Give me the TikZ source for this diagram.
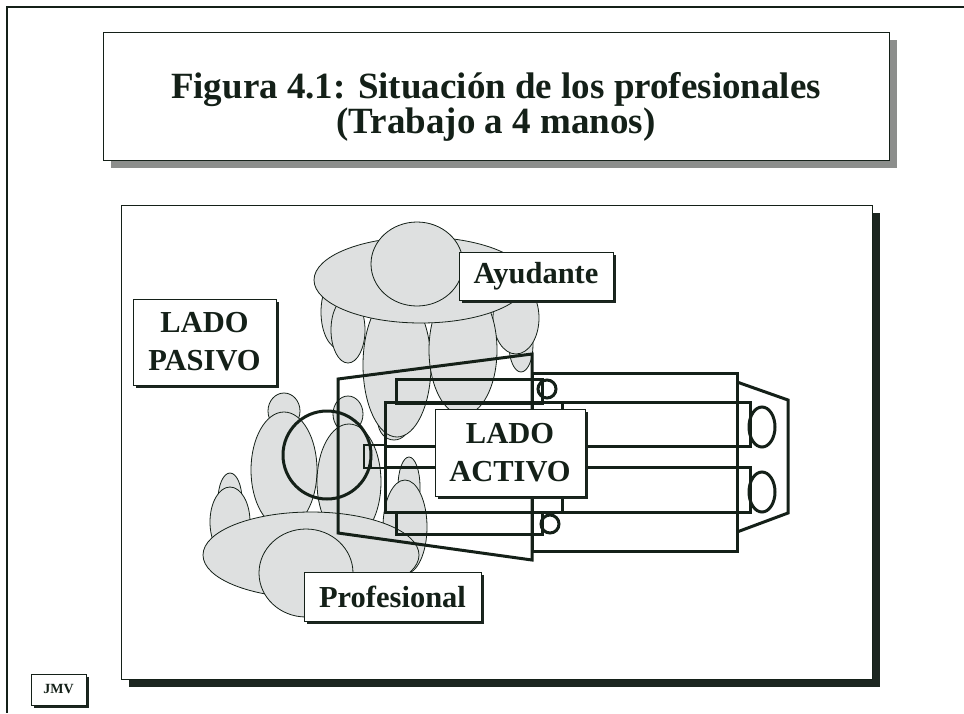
\documentclass[tikz,border=0pt]{standalone}
\usepackage{fontspec}
\setmainfont{Liberation Serif}
\usetikzlibrary{shadows}
\definecolor{ink}{RGB}{20,32,24}
\definecolor{skin}{RGB}{222,224,224}
\definecolor{titleshade}{RGB}{140,142,140}
\definecolor{darkshade}{RGB}{28,38,32}
\begin{document}
\begin{tikzpicture}[x=1pt,y=-1pt,
  figpart/.style={fill=skin,draw=ink,line width=0.8pt},
  chairline/.style={draw=ink,line width=3pt,line join=miter},
  labelbox/.style={draw=ink,line width=0.8pt,fill=white,inner sep=0pt,text=ink,
     font=\bfseries\fontsize{30.5}{38}\selectfont,align=center,
     drop shadow={shadow xshift=3pt,shadow yshift=-3pt,opacity=1,fill=darkshade}},
]
\useasboundingbox (0,0) rectangle (964,713);
\fill[white] (0,0) rectangle (964,713);

% page frame
\draw[ink,line width=2pt] (964,7) -- (7,7) -- (7,713);

% title panel
\fill[titleshade] (111,40) rectangle (897,168);
\node[draw=ink,line width=0.8pt,fill=white,minimum width=786pt,minimum height=128pt,inner sep=0pt]
  (titlebox) at (496,96) {};
\node[text=ink,font=\bfseries\fontsize{37}{35}\selectfont,align=center,inner sep=0pt]
  (title) at (496,107) {Figura 4.1: Situación de los profesionales\\(Trabajo a 4 manos)};

% drawing panel
\fill[darkshade] (129,213) rectangle (880,687);
\node[draw=ink,line width=0.8pt,fill=white,minimum width=751pt,minimum height=474pt,inner sep=0pt]
  (panel) at (496.5,442) {};

% ---- assistant (seen from above) ----
\path[figpart] (340,312) ellipse [x radius=19pt,y radius=37pt];
\path[figpart] (348,330) ellipse [x radius=17pt,y radius=33pt];
\path[figpart] (521,345) ellipse [x radius=12pt,y radius=27pt];
\path[figpart] (516,318) ellipse [x radius=23pt,y radius=36pt];
\path[figpart] (394,422) ellipse [x radius=16pt,y radius=18pt];
\path[figpart] (397,365) ellipse [x radius=34pt,y radius=72pt];
\path[figpart] (463,350) ellipse [x radius=34pt,y radius=65pt];
\path[figpart] (421,280) ellipse [x radius=107pt,y radius=43pt];
\path[figpart] (417,264) ellipse [x radius=46pt,y radius=42pt];

% ---- professional (seen from above) ----
\path[figpart] (230,500) ellipse [x radius=12pt,y radius=27pt];
\path[figpart] (230,522) ellipse [x radius=20pt,y radius=35pt];
\path[figpart] (409,487) ellipse [x radius=11pt,y radius=30pt];
\path[figpart] (405,527) ellipse [x radius=22pt,y radius=47pt];
\path[figpart] (284,411) ellipse [x radius=16pt,y radius=18pt];
\path[figpart] (348,414) ellipse [x radius=15pt,y radius=18pt];
\path[figpart] (284,470) ellipse [x radius=33pt,y radius=58pt];
\path[figpart] (349,482) ellipse [x radius=32pt,y radius=58pt];
\path[figpart] (311,555) ellipse [x radius=108pt,y radius=43pt];
\path[figpart] (306,573) ellipse [x radius=47pt,y radius=44pt];

% ---- dental chair ----
\draw[chairline] (338,379) -- (532,354) -- (532,560) -- (338,533) -- cycle;
\draw[chairline] (532,373) rectangle (737,551);
\draw[chairline] (737,382) -- (788,400) -- (788,513) -- (737,532);
\draw[chairline] (547,389) circle [radius=9pt];
\draw[chairline] (550,524) circle [radius=9pt];
\draw[chairline] (396,379) rectangle (542,403);
\draw[chairline] (396,512) rectangle (542,534);
\draw[chairline] (385,402) rectangle (750,446);
\draw[chairline] (385,467) rectangle (750,512);
\draw[chairline] (385,446) -- (385,467);
\draw[chairline] (562,402) -- (562,512);
\draw[chairline] (762,427) ellipse [x radius=13pt,y radius=20pt];
\draw[chairline] (762,492) ellipse [x radius=13pt,y radius=20pt];
% patient head and headrest
\draw[chairline] (327,455) circle [radius=44pt];
\draw[draw=ink,line width=2pt] (364,445) rectangle (385,468);
\draw[draw=ink,line width=2pt] (371,445) -- (371,468);

% ---- labels ----
\node[labelbox,minimum width=143pt,minimum height=86pt] (pasivo) at (204.5,342) {LADO\\PASIVO};
\node[labelbox,minimum width=154pt,minimum height=48pt] (ayud) at (536,276) {Ayudante};
\node[labelbox,minimum width=150pt,minimum height=87pt] (activo) at (510,452.5) {LADO\\ACTIVO};
\node[labelbox,minimum width=177pt,minimum height=49pt] (prof) at (392.5,596.5) {Profesional};
\node[labelbox,minimum width=55pt,minimum height=31pt,font=\bfseries\fontsize{14}{16}\selectfont] (jmv) at (58.5,689.5) {JMV};
\end{tikzpicture}
\end{document}
